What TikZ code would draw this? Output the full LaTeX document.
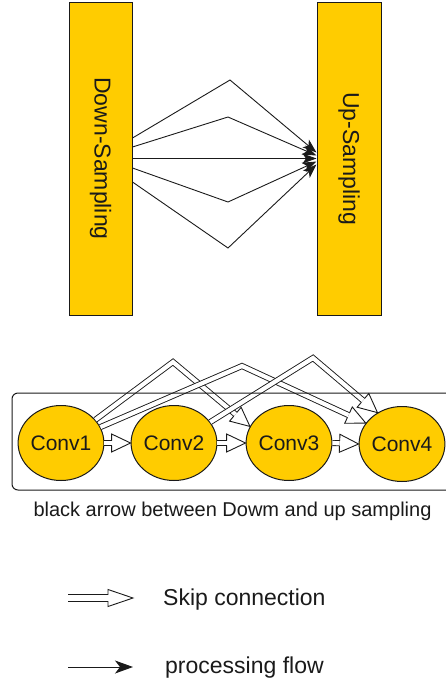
\documentclass[tikz,border=0pt]{standalone}
\usepackage{fontspec}
\setmainfont{Liberation Sans}
\usetikzlibrary{arrows.meta,calc,shapes.geometric}

\definecolor{boxyellow}{HTML}{FFCC00}
\definecolor{inkline}{HTML}{1A1A1A}

% hollow "flex" arrow head: #1 tip, #2 point the last segment comes from,
% #3 head length, #4 head half width, #5 shaft half width
\newcommand\hollowhead[5]{%
  \coordinate (hb) at ($(#1)!#3!(#2)$);
  \draw[skipedge] ($(hb)!#5!90:(#1)$) -- ($(hb)!#4!90:(#1)$) -- (#1)
    -- ($(hb)!#4!-90:(#1)$) -- ($(hb)!#5!-90:(#1)$);
}
% straight skip connection from #1 to #2
\newcommand\skipstraight[2]{%
  \coordinate (sb) at ($(#2)!19pt!(#1)$);
  \draw[skipshaft] (#1) -- (sb);
  \hollowhead{#2}{#1}{19pt}{9pt}{2.5pt}
}
% bent skip connection from #1 over #2 to #3
\newcommand\skipbent[3]{%
  \coordinate (sb) at ($(#3)!19pt!(#2)$);
  \draw[skipshaft] (#1) -- (#2) -- (sb);
  \hollowhead{#3}{#2}{19pt}{9pt}{2.5pt}
}

\tikzset{
  stage/.style={draw=inkline, line width=1pt, fill=boxyellow, inner sep=0pt},
  stagetext/.style={font=\fontsize{23}{27}\selectfont, text=inkline, inner sep=0pt},
  convnode/.style={ellipse, draw=inkline, line width=1pt, fill=boxyellow,
    minimum width=78pt, minimum height=75pt, inner sep=0pt,
    font=\fontsize{21}{25}\selectfont, text=inkline},
  flowedge/.style={draw=inkline, line width=0.9pt,
    -{Stealth[length=14pt,width=10pt,inset=3.5pt]}},
  skipshaft/.style={draw=inkline, line width=0.9pt, double=white,
    double distance=4.2pt, line join=miter},
  skipedge/.style={draw=inkline, line width=0.9pt, line join=miter},
  frame/.style={draw=inkline, line width=1pt, rounded corners=6pt},
  caption/.style={font=\fontsize{20}{24}\selectfont, text=inkline, inner sep=0pt},
  legendtext/.style={font=\fontsize{23}{27}\selectfont, text=inkline, inner sep=0pt},
}

\begin{document}
\begin{tikzpicture}[x=1pt, y=-1pt]
\useasboundingbox (0,0) rectangle (446,689);

% ---- sampling stages and the flow between them ----
\node[stage, minimum width=63pt, minimum height=313pt] (down) at (100.5,158.5) {};
\node[stage, minimum width=64pt, minimum height=313pt] (up) at (349,158.5) {};
\node[stagetext, rotate=-90] (downlabel) at (down.center) {Down-Sampling};
\node[stagetext, rotate=-90] (uplabel) at (up.center) {Up-Sampling};

\coordinate (b1) at (230,80);
\coordinate (b2) at (228,117);
\coordinate (b4) at (228,202);
\coordinate (b5) at (228,248);

\draw[flowedge] ($(down.east)+(0,-20.5)$) -- (b1) -- ($(up.west)+(0,-6)$);
\draw[flowedge] ($(down.east)+(0,-11.5)$) -- (b2) -- ($(up.west)+(0,-3)$);
\draw[flowedge] (down.east) -- (up.west);
\draw[flowedge] ($(down.east)+(0,9.5)$) -- (b4) -- ($(up.west)+(0,3)$);
\draw[flowedge] ($(down.east)+(0,23.5)$) -- (b5) -- ($(up.west)+(0,6)$);

% ---- convolution chain with skip connections ----
\node[convnode] (c1) at (61,443) {Conv1};
\node[convnode] (c2) at (174,443) {Conv2};
\node[convnode] (c3) at (289,443) {Conv3};
\node[convnode] (c4) at (402,444) {Conv4};

\coordinate (k13) at (173,362);
\coordinate (k14) at (242,366);
\coordinate (k24) at (313,358);

\skipbent{c1.34}{k13}{c3.157}
\skipbent{c1.22}{k14}{c4.150}
\skipbent{c2.30}{k24}{c4.128}
\skipstraight{c1.east}{c2.west}
\skipstraight{c2.east}{c3.west}
\skipstraight{c3.east}{c4.west}

\draw[frame] (12,393) rectangle (470,490);
\node[caption, anchor=base] (cap) at (232.5,516) {black arrow between Dowm and up sampling};

% ---- legend ----
\coordinate (ls0) at (68,598);
\coordinate (ls1) at (133,598);
\coordinate (lsb) at ($(ls1)!25pt!(ls0)$);
\draw[skipshaft, double distance=5.5pt] (ls0) -- (lsb);
\hollowhead{ls1}{ls0}{25pt}{8.5pt}{3.2pt}
\node[legendtext, anchor=base west] (skiplabel) at (163,605) {Skip connection};

\coordinate (lf0) at (68,667);
\coordinate (lf1) at (133,667);
\draw[draw=inkline, line width=1pt, -{Stealth[length=18pt,width=13pt,inset=5pt]}] (lf0) -- (lf1);
\node[legendtext, anchor=base west] (flowlabel) at (165,673) {processing flow};
\end{tikzpicture}
\end{document}
